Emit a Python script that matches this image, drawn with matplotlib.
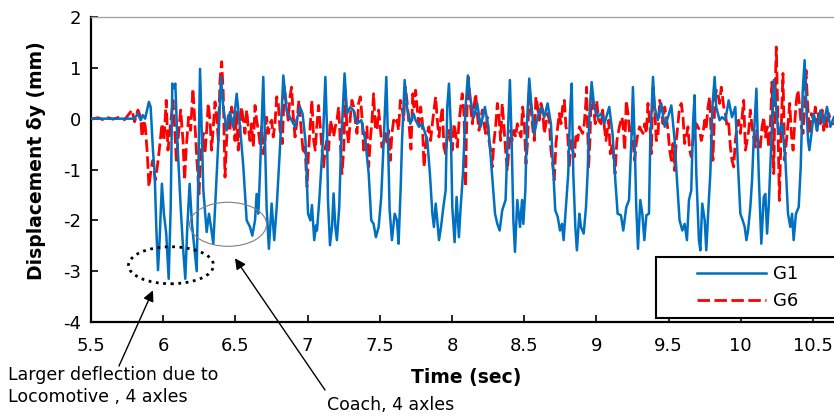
import matplotlib
matplotlib.use("Agg")
from matplotlib import pyplot as plt
from matplotlib.patches import Ellipse, Rectangle

plt.rcParams['font.family'] = ['DejaVu Sans']
plt.rcParams['axes.unicode_minus'] = False

# G1 girder displacement (time sec, mm)
g1_points = [
    (5.50, 0.00), (5.80, 0.00), (5.825, 0.10), (5.844, -0.03), (5.86, 0.07), (5.875, 0.00), (5.901, 0.33), (5.913, 0.23), (5.929, -0.62), (5.941, -1.08),
    (5.952, -2.13), (5.964, -2.98), (5.975, -2.39), (5.991, -1.28), (6.005, -1.87), (6.021, -2.26), (6.038, -3.15), (6.052, -1.74), (6.063, 0.69), (6.074, 0.60),
    (6.084, 0.69), (6.098, -0.43), (6.121, -1.74), (6.137, -2.52), (6.153, -3.15), (6.167, -2.13), (6.183, -1.28), (6.199, -2.07), (6.232, -3.00), (6.255, 0.98),
    (6.278, -1.41), (6.301, -2.23), (6.317, -1.87), (6.331, -2.13), (6.347, -2.46), (6.363, -1.54), (6.382, -0.43), (6.400, 0.82), (6.416, 0.23), (6.439, -0.23),
    (6.462, 0.13), (6.485, -0.16), (6.509, 0.49), (6.532, -0.16), (6.555, -0.95), (6.578, -2.00), (6.601, -2.13), (6.617, -2.30), (6.636, -2.00), (6.647, -1.48),
    (6.659, -1.87), (6.670, -1.08), (6.693, 0.82), (6.705, -0.43), (6.716, -1.74), (6.732, -2.56), (6.751, -1.67), (6.769, -2.39), (6.786, -1.74), (6.809, -0.56),
    (6.832, 0.85), (6.855, 0.16), (6.878, 0.03), (6.913, -0.16), (6.947, 0.23), (6.965, 0.10), (6.985, -0.43), (7.003, -1.87), (7.019, -2.00), (7.030, -1.70),
    (7.046, -2.39), (7.058, -2.10), (7.065, -2.20), (7.081, -1.60), (7.095, -0.95), (7.106, -0.43), (7.123, 0.82), (7.134, -0.16), (7.141, -1.60), (7.155, -2.49),
    (7.169, -2.13), (7.180, -1.47), (7.192, -2.13), (7.203, -2.39), (7.219, -1.74), (7.233, -0.43), (7.256, 0.89), (7.273, 0.10), (7.296, 0.23), (7.319, 0.16),
    (7.342, -0.10), (7.372, -0.03), (7.400, -0.43), (7.423, -1.08), (7.441, -2.00), (7.457, -2.07), (7.473, -2.33), (7.492, -2.13), (7.510, -1.54), (7.527, -0.43),
    (7.545, 0.82), (7.557, -0.43), (7.568, -1.80), (7.584, -2.39), (7.603, -1.87), (7.619, -2.00), (7.630, -2.46), (7.644, -1.41), (7.654, -0.43), (7.672, 0.76),
    (7.688, 0.23), (7.711, -0.10), (7.734, 0.10), (7.748, -0.03), (7.771, -0.16), (7.794, -0.10), (7.829, -0.43), (7.847, -1.08), (7.864, -1.87), (7.875, -2.13),
    (7.887, -1.67), (7.898, -2.00), (7.910, -2.39), (7.924, -2.13), (7.940, -1.74), (7.956, -1.41), (7.967, 0.23), (7.979, 0.69), (7.991, -0.10), (8.002, -1.74),
    (8.018, -2.43), (8.032, -1.54), (8.048, -2.33), (8.060, -1.74), (8.076, -1.08), (8.094, 0.23), (8.110, 0.85), (8.129, 0.36), (8.152, 0.03), (8.175, 0.30),
    (8.198, -0.16), (8.228, 0.23), (8.251, -0.16), (8.268, -0.75), (8.284, -1.34), (8.298, -1.87), (8.314, -2.07), (8.330, -2.20), (8.348, -1.80), (8.371, -1.60),
    (8.385, -0.43), (8.401, 0.76), (8.413, -0.43), (8.425, -2.00), (8.436, -2.62), (8.452, -1.60), (8.471, -2.13), (8.485, -1.60), (8.494, -2.07), (8.508, -1.41),
    (8.519, -0.10), (8.535, 0.79), (8.547, 0.36), (8.570, -0.30), (8.593, 0.03), (8.616, 0.23), (8.639, 0.03), (8.662, 0.30), (8.685, -0.10), (8.702, -1.08),
    (8.715, -1.80), (8.732, -1.93), (8.748, -2.20), (8.762, -2.07), (8.773, -2.39), (8.789, -1.74), (8.805, -1.08), (8.817, 0.10), (8.829, 0.69), (8.840, -1.08),
    (8.854, -2.13), (8.865, -2.59), (8.882, -1.87), (8.893, -2.13), (8.912, -2.26), (8.928, -1.74), (8.939, -1.08), (8.951, 0.03), (8.967, 0.72), (8.985, 0.23),
    (9.009, 0.03), (9.032, 0.10), (9.055, -0.10), (9.089, 0.23), (9.112, -0.30), (9.131, -1.21), (9.147, -1.87), (9.170, -1.90), (9.186, -2.20), (9.207, -1.74),
    (9.226, -1.60), (9.242, -0.43), (9.253, 0.62), (9.265, -0.43), (9.276, -1.74), (9.288, -2.56), (9.304, -1.60), (9.318, -1.87), (9.332, -2.39), (9.346, -1.90),
    (9.364, -1.87), (9.373, -0.43), (9.392, 0.82), (9.403, 0.23), (9.426, -0.03), (9.449, 0.30), (9.473, -0.16), (9.496, 0.03), (9.519, 0.26), (9.542, -0.43),
    (9.558, -1.21), (9.576, -2.00), (9.595, -2.20), (9.611, -2.07), (9.627, -2.39), (9.641, -1.60), (9.657, -1.41), (9.669, -0.10), (9.680, 0.46), (9.692, -1.08),
    (9.710, -2.39), (9.720, -2.59), (9.733, -1.67), (9.750, -2.00), (9.761, -2.59), (9.775, -1.80), (9.789, -1.08), (9.803, 0.23), (9.819, 0.82), (9.830, 0.23),
    (9.853, -0.03), (9.870, 0.03), (9.893, -0.03), (9.916, 0.36), (9.939, 0.03), (9.962, 0.23), (9.981, -0.95), (9.997, -1.87), (10.013, -2.00), (10.027, -2.13),
    (10.039, -2.39), (10.050, -2.20), (10.066, -1.74), (10.078, -1.21), (10.089, -0.43), (10.108, 0.59), (10.124, -1.08), (10.142, -2.46), (10.159, -1.54), (10.170, -1.48),
    (10.182, -2.26), (10.193, -1.74), (10.212, -0.43), (10.228, 0.76), (10.244, 0.23), (10.262, -0.30), (10.286, -0.10), (10.309, -0.82), (10.327, -1.87), (10.343, -2.13),
    (10.355, -1.87), (10.366, -2.39), (10.382, -1.87), (10.401, -1.74), (10.415, -0.95), (10.429, 0.56), (10.442, 1.15), (10.454, 0.23), (10.466, -0.43), (10.475, -0.62),
    (10.489, -0.30), (10.505, 0.10), (10.528, -0.23), (10.551, 0.16), (10.574, -0.10), (10.597, 0.23), (10.620, -0.16), (10.645, 0.03),
]

# G6 girder displacement (time sec, mm)
g6_points = [
    (5.502, -0.01), (5.548, 0.02), (5.583, -0.02), (5.618, 0.02), (5.652, -0.01), (5.698, 0.03), (5.733, -0.02), (5.768, 0.11), (5.784, 0.17), (5.802, -0.06),
    (5.825, 0.17), (5.844, 0.03), (5.853, -0.36), (5.867, -0.03), (5.876, -0.16), (5.890, -0.69), (5.901, -1.34), (5.918, -0.95), (5.929, -0.82), (5.945, -1.21),
    (5.959, -0.95), (5.975, -0.56), (5.991, -0.10), (6.005, -0.43), (6.021, 0.36), (6.033, -0.62), (6.051, -0.10), (6.068, 0.36), (6.079, -0.16), (6.091, -0.82),
    (6.102, -0.43), (6.121, 0.17), (6.137, -0.43), (6.148, -1.21), (6.160, -0.56), (6.176, 0.03), (6.190, -0.23), (6.206, 0.59), (6.218, -0.03), (6.232, -0.75),
    (6.248, -1.48), (6.262, -0.62), (6.278, -0.29), (6.289, -0.69), (6.301, -0.23), (6.312, 0.30), (6.324, -0.03), (6.335, -0.62), (6.347, -0.16), (6.359, 0.33),
    (6.370, 0.03), (6.382, -0.43), (6.393, 0.75), (6.405, 1.12), (6.416, 0.49), (6.428, -1.15), (6.439, -0.43), (6.451, 0.10), (6.462, -0.23), (6.474, 0.23),
    (6.485, 0.03), (6.497, -0.43), (6.509, 0.13), (6.520, -0.62), (6.532, -0.16), (6.543, 0.23), (6.555, -0.03), (6.566, -0.29), (6.578, 0.17), (6.589, -0.16),
    (6.601, -0.43), (6.612, -0.10), (6.624, -0.56), (6.636, 0.26), (6.647, -0.03), (6.659, -0.23), (6.670, -0.49), (6.682, -0.16), (6.693, -0.69), (6.705, -0.43),
    (6.716, 0.03), (6.728, -0.29), (6.739, -0.10), (6.751, -0.03), (6.762, -0.36), (6.774, -0.10), (6.786, 0.43), (6.797, 0.30), (6.809, -0.23), (6.825, -0.49),
    (6.839, 0.62), (6.855, 0.23), (6.866, -0.03), (6.878, 0.43), (6.889, 0.62), (6.901, 0.03), (6.913, -0.36), (6.924, -0.10), (6.940, 0.36), (6.954, -0.16),
    (6.970, -0.69), (6.982, -0.56), (6.996, -1.34), (7.007, -0.62), (7.019, -0.10), (7.030, 0.36), (7.042, -0.43), (7.053, -0.62), (7.065, -0.10), (7.076, 0.26),
    (7.088, -0.16), (7.100, -0.62), (7.111, -0.95), (7.123, -0.56), (7.134, -0.43), (7.146, -0.62), (7.157, -0.03), (7.169, -0.16), (7.180, -0.36), (7.192, -0.16),
    (7.203, -0.03), (7.215, 0.23), (7.226, -0.43), (7.238, -1.08), (7.250, -0.62), (7.261, 0.56), (7.273, -0.23), (7.284, -0.49), (7.296, 0.03), (7.307, 0.36),
    (7.319, 0.23), (7.330, -0.03), (7.342, -0.29), (7.353, 0.30), (7.365, 0.43), (7.377, 0.03), (7.388, -0.62), (7.400, -0.43), (7.411, -0.16), (7.423, -0.95),
    (7.434, -0.43), (7.446, -0.03), (7.457, 0.49), (7.469, -0.16), (7.480, -0.23), (7.492, 0.17), (7.503, -0.16), (7.515, -0.56), (7.527, -0.43), (7.538, -0.29),
    (7.550, -0.49), (7.561, -0.23), (7.573, -0.82), (7.584, -0.29), (7.596, -0.03), (7.607, -0.10), (7.619, -0.03), (7.630, -0.23), (7.642, 0.36), (7.654, 0.23),
    (7.665, -0.03), (7.677, 0.62), (7.688, 0.36), (7.700, -0.03), (7.716, -0.60), (7.728, 0.49), (7.737, 0.23), (7.748, 0.56), (7.760, 0.17), (7.771, -0.10),
    (7.783, 0.23), (7.794, -0.03), (7.806, -0.95), (7.817, -0.56), (7.829, -0.29), (7.840, -0.16), (7.852, -0.43), (7.864, -0.10), (7.875, 0.17), (7.887, 0.43),
    (7.898, -0.03), (7.910, -0.36), (7.921, -0.03), (7.933, 0.23), (7.944, -0.56), (7.956, -0.69), (7.967, -0.36), (7.979, -0.23), (7.991, -0.49), (8.002, -0.62),
    (8.014, -0.10), (8.025, -0.29), (8.037, -0.56), (8.048, -0.10), (8.060, 0.23), (8.071, 0.49), (8.083, 0.10), (8.094, -1.34), (8.099, -0.43), (8.106, 0.36),
    (8.113, 0.82), (8.129, 0.23), (8.141, -0.10), (8.152, 0.23), (8.164, 0.49), (8.175, 0.10), (8.187, -0.23), (8.198, -0.03), (8.210, 0.17), (8.221, -0.10),
    (8.233, -0.29), (8.244, 0.03), (8.256, -0.43), (8.268, -0.62), (8.279, -0.95), (8.291, -0.43), (8.302, -0.16), (8.314, 0.30), (8.325, 0.03), (8.337, -0.43),
    (8.348, 0.30), (8.360, -0.16), (8.371, -0.62), (8.383, -1.02), (8.395, -0.56), (8.406, -0.23), (8.418, -0.43), (8.429, -0.23), (8.441, -0.36), (8.452, -0.10),
    (8.464, -0.23), (8.478, -0.36), (8.489, 0.23), (8.501, -0.10), (8.512, -0.89), (8.524, -0.43), (8.535, 0.62), (8.547, 0.23), (8.558, -0.16), (8.570, -0.43),
    (8.581, 0.43), (8.593, 0.23), (8.605, -0.03), (8.616, 0.30), (8.628, 0.17), (8.639, -0.29), (8.651, -0.10), (8.662, 0.10), (8.674, -0.03), (8.685, -0.62),
    (8.697, -0.89), (8.708, -1.21), (8.720, -0.49), (8.732, -0.16), (8.743, 0.10), (8.755, -0.10), (8.766, 0.23), (8.778, 0.36), (8.789, -0.16), (8.801, -0.29),
    (8.812, -0.95), (8.824, -0.43), (8.835, -0.62), (8.847, -0.75), (8.859, -0.29), (8.870, -0.43), (8.882, -0.16), (8.893, -0.23), (8.905, -0.29), (8.916, -0.10),
    (8.928, 0.36), (8.932, 0.62), (8.946, -0.95), (8.955, -0.43), (8.965, 0.56), (8.979, 0.23), (8.992, -0.10), (9.002, 0.36), (9.015, -0.03), (9.032, -0.10),
    (9.043, 0.17), (9.055, -0.16), (9.066, -0.43), (9.085, -0.03), (9.096, -0.69), (9.112, -0.49), (9.129, -1.08), (9.142, -0.43), (9.159, -0.16), (9.177, 0.03),
    (9.184, -0.10), (9.196, -0.62), (9.207, 0.36), (9.219, 0.10), (9.230, -0.29), (9.242, -0.16), (9.253, -0.43), (9.265, -0.82), (9.276, -0.49), (9.288, -0.29),
    (9.299, -0.16), (9.311, -0.23), (9.323, -0.29), (9.334, -0.10), (9.346, -0.29), (9.357, 0.30), (9.369, -0.03), (9.380, -0.69), (9.392, 0.62), (9.403, 0.23),
    (9.415, -0.43), (9.426, -0.36), (9.438, 0.36), (9.449, 0.23), (9.461, -0.10), (9.473, 0.23), (9.484, 0.03), (9.496, -0.23), (9.507, -0.62), (9.519, -0.82),
    (9.530, -0.49), (9.542, -1.02), (9.553, -0.43), (9.565, -0.10), (9.576, 0.23), (9.588, 0.30), (9.600, 0.03), (9.611, -0.49), (9.623, -0.36), (9.634, -0.16),
    (9.646, -0.62), (9.657, -0.75), (9.669, -0.43), (9.680, -0.29), (9.692, -0.10), (9.703, -0.16), (9.715, -0.23), (9.726, -0.43), (9.738, -0.29), (9.750, -0.03),
    (9.761, -0.16), (9.773, 0.23), (9.784, 0.43), (9.796, -0.43), (9.807, -0.82), (9.819, 0.23), (9.830, 0.56), (9.842, 0.49), (9.853, 0.30), (9.865, 0.62),
    (9.882, 0.23), (9.893, 0.10), (9.905, -0.16), (9.916, -0.10), (9.928, -0.56), (9.939, -0.82), (9.951, -0.95), (9.962, -0.43), (9.974, -0.16), (9.985, -0.03),
    (9.997, -0.29), (10.009, 0.03), (10.020, 0.36), (10.032, -0.62), (10.043, -0.43), (10.055, -0.23), (10.066, 0.17), (10.078, -0.16), (10.089, -0.36), (10.101, -0.56),
    (10.112, -0.23), (10.124, -0.62), (10.135, -0.56), (10.147, -0.16), (10.159, 0.03), (10.170, -0.36), (10.182, -0.16), (10.193, -0.56), (10.205, -0.10), (10.216, 0.72),
    (10.228, -1.08), (10.239, 0.69), (10.246, 1.41), (10.255, 0.23), (10.267, -1.61), (10.279, -0.29), (10.292, 0.89), (10.304, -0.82), (10.316, -0.43), (10.327, -0.10),
    (10.339, 0.30), (10.350, -0.29), (10.362, -0.62), (10.373, -0.10), (10.385, 0.36), (10.396, 0.56), (10.408, 0.23), (10.419, -0.16), (10.431, -0.29), (10.442, 0.23),
    (10.452, 0.95), (10.461, 0.36), (10.475, -0.29), (10.489, 0.10), (10.505, -0.03), (10.516, 0.23), (10.528, -0.23), (10.539, 0.10), (10.551, -0.10), (10.563, 0.17),
    (10.574, -0.23), (10.586, 0.03), (10.597, -0.16), (10.609, 0.10), (10.620, -0.03), (10.632, -0.10), (10.646, -0.10),
]

x_ticks = [5.5, 6, 6.5, 7, 7.5, 8, 8.5, 9, 9.5, 10, 10.5]
y_ticks = [-4, -3, -2, -1, 0, 1, 2]

g1_t, g1_d = zip(*g1_points)
g6_t, g6_d = zip(*g6_points)

W, H = 834, 416
fig = plt.figure(figsize=(W / 100, H / 100), dpi=100)
# axes: left spine at x=91px, bottom at y=322px, top at y=17px; right side runs off the picture
ax = fig.add_axes([91 / W, 1 - 322 / H, (W - 91) / W, 305 / H])
ax.set_xlim(5.5, 5.5 + (W - 91) / 144.4)
ax.set_ylim(-4, 2)

ax.plot(g1_t, g1_d, color='#0070C0', lw=1.8, label='G1', zorder=3)
ax.plot(g6_t, g6_d, color='#FF0000', lw=2.0, dashes=(4.5, 1.6), label='G6', zorder=2)

ax.set_xticks(x_ticks)
ax.set_xticklabels([f"{v:g}" for v in x_ticks])
ax.set_yticks(y_ticks)
ax.set_yticklabels([f"{v:g}" for v in y_ticks])
ax.tick_params(direction='in', length=5, width=1.2, labelsize=13)
ax.tick_params(axis='x', pad=11)
ax.tick_params(axis='y', pad=7)

for s in ['left', 'bottom']:
    ax.spines[s].set_linewidth(1.6)
    ax.spines[s].set_color('black')
ax.spines['top'].set_color('#A6A6A6')
ax.spines['top'].set_linewidth(1.0)
ax.spines['right'].set_visible(False)

ax.set_xlabel('Time (sec)', fontsize=13.5, fontweight='bold')
ax.xaxis.set_label_coords((466 - 91) / (W - 91), (322 - 368) / 305)
ax.set_ylabel('Displacement δy (mm)', fontsize=13.5, fontweight='bold')
ax.yaxis.set_label_coords((46 - 91) / (W - 91), (322 - 161) / 305)

# legend (box runs past the right edge, like the original)
ax.add_patch(Rectangle((656 / W, 1 - 318 / H), 0.6, 61 / H, transform=fig.transFigure,
                       facecolor='white', edgecolor='black', lw=1.5, zorder=4, clip_on=False))
ax.legend(loc='center left', bbox_to_anchor=(697 / W, 1 - 287.5 / H), bbox_transform=fig.transFigure,
          frameon=False, fontsize=13, handlelength=3.8, handletextpad=0.4, labelspacing=0.5,
          borderpad=0, borderaxespad=0)

# annotations
ax.add_patch(Ellipse((6.054, -2.884), 0.589, 0.728, fill=False, ls=':', lw=2, color='black', zorder=5))
ax.add_patch(Ellipse((6.449, -2.078), 0.533, 0.866, fill=False, lw=0.8, color='#808080', zorder=5))

arrow = dict(arrowstyle='-|>', color='black', lw=1, mutation_scale=16, shrinkA=0, shrinkB=0)
ax.annotate('', xy=(5.929, -3.378), xytext=(119 / W, 1 - 366 / H), textcoords='figure fraction',
            arrowprops=arrow, annotation_clip=False)
ax.annotate('', xy=(6.497, -2.746), xytext=(325 / W, 1 - 390 / H), textcoords='figure fraction',
            arrowprops=arrow, annotation_clip=False)

fig.text(8 / W, 1 - 375 / H, 'Larger deflection due to', fontsize=12.5, va='center')
fig.text(8 / W, 1 - 397 / H, 'Locomotive , 4 axles', fontsize=12.5, va='center')
fig.text(327 / W, 1 - 405 / H, 'Coach, 4 axles', fontsize=12.5, va='center')

plt.savefig('out.png', dpi=100)
